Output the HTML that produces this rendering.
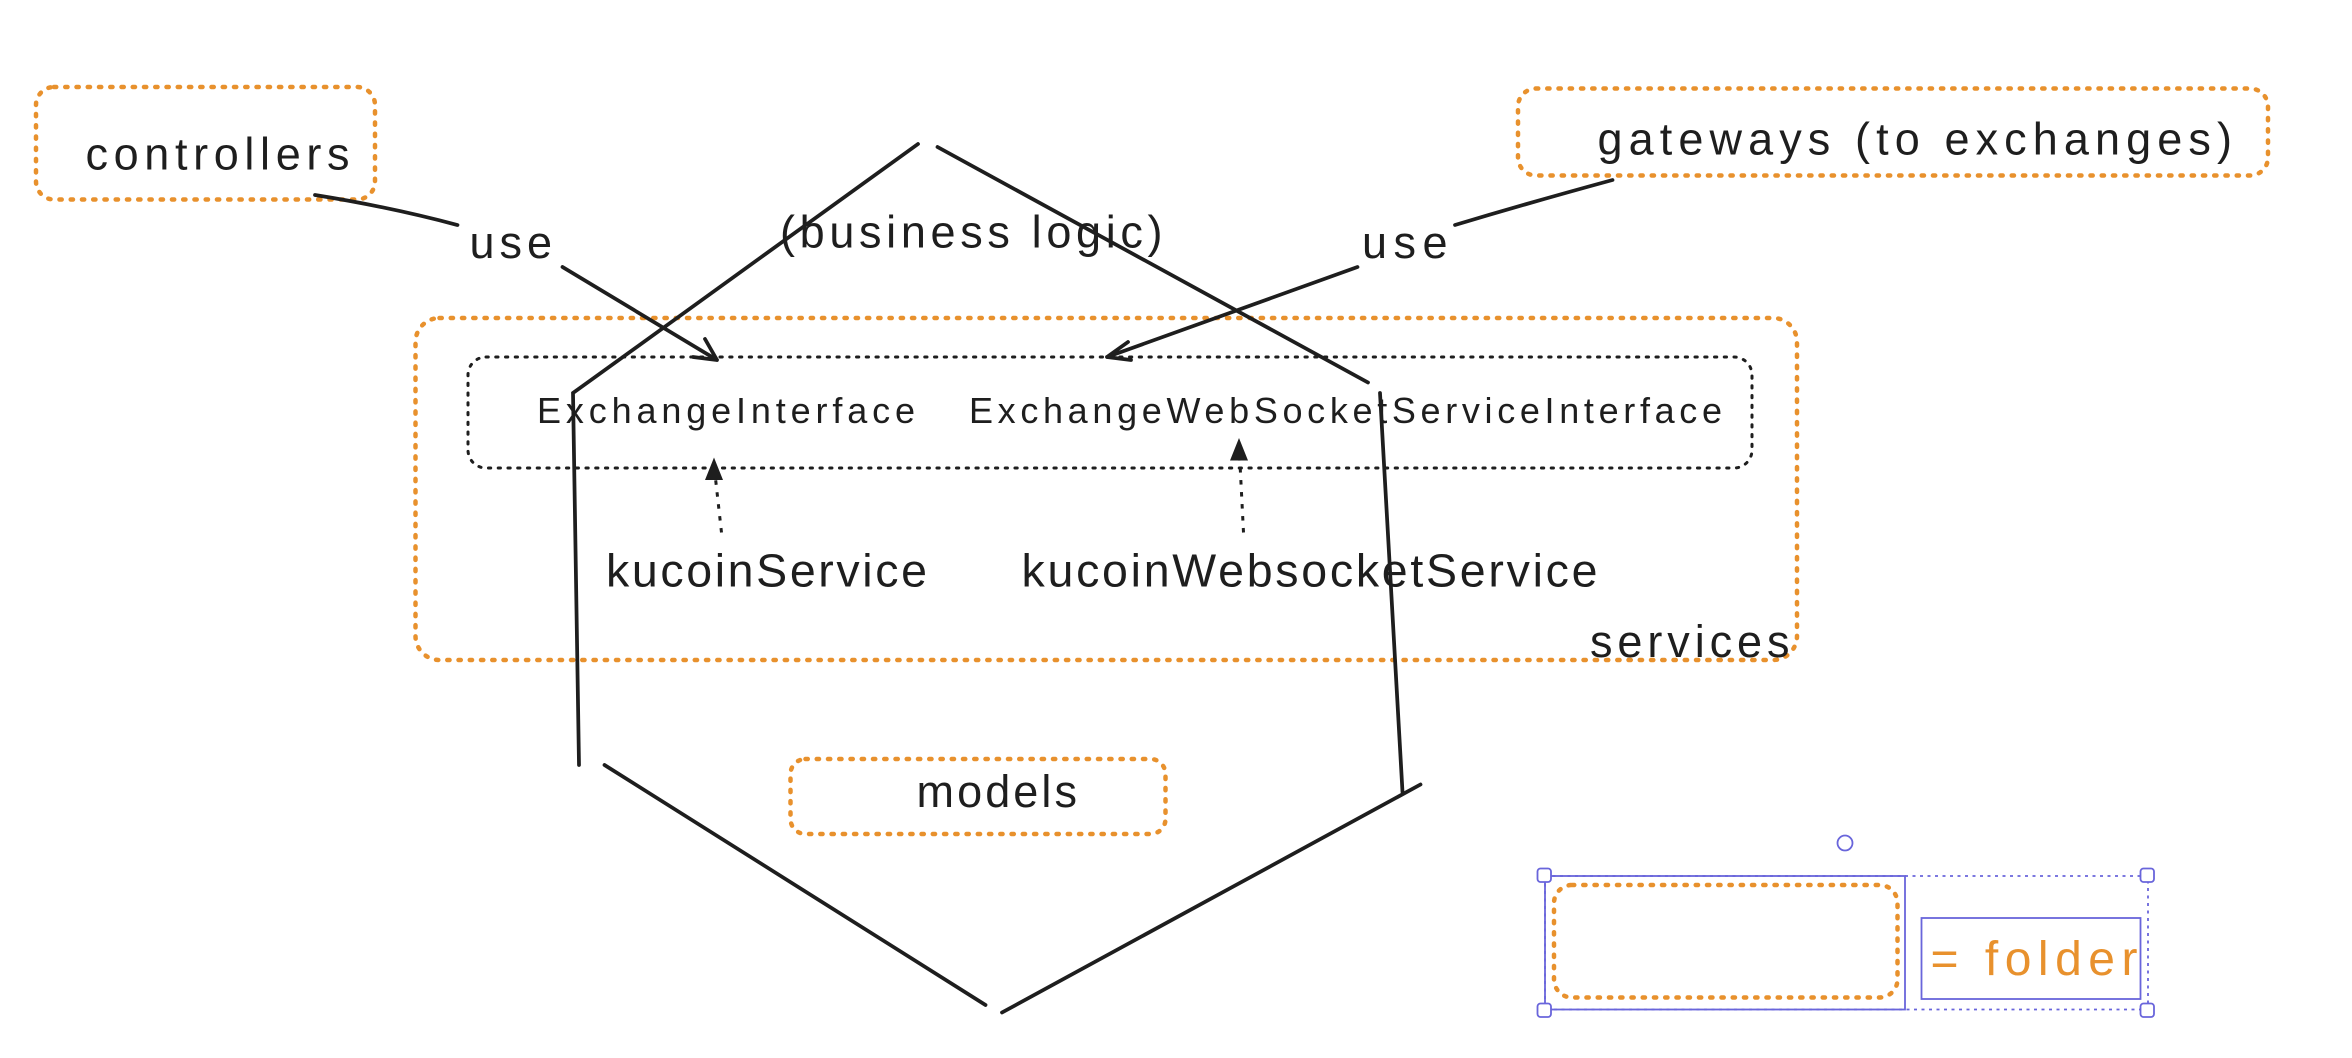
<!DOCTYPE html>
<html><head><meta charset="utf-8"><style>
html,body{margin:0;padding:0;background:#fff;width:2352px;height:1058px;overflow:hidden}
text{font-family:"Liberation Sans",sans-serif;fill:#1e1e1e}
</style></head><body>
<svg width="2352" height="1058" viewBox="0 0 1568 705.33" xmlns="http://www.w3.org/2000/svg">
<g fill="none" stroke="#e8912d" stroke-width="3" stroke-dasharray="1.5 6" stroke-linecap="round">
<rect x="24" y="58" width="226" height="75" rx="12"/>
<rect x="1012" y="59" width="500" height="58" rx="12"/>
<rect x="277" y="212" width="921" height="228" rx="16"/>
<rect x="527" y="506" width="250" height="50" rx="10"/>
<rect x="1036" y="590" width="229" height="75" rx="12"/>
</g>
<rect x="312" y="238" width="856" height="74" rx="12" fill="none" stroke="#1e1e1e" stroke-width="2" stroke-dasharray="1.5 5" stroke-linecap="round"/>
<g fill="none" stroke="#1e1e1e" stroke-width="2.5" stroke-linecap="round">
<path d="M210 130 Q260 138 305 150"/>
<path d="M375 178 L478 240 M478 240 L462 238 M478 240 L470 226"/>
<path d="M1075 120 Q1020 135 970 150"/>
<path d="M905 178 L738 238 M738 238 L752 228 M738 238 L754 240"/>
<path d="M612 96 L382 262 L386 510"/>
<path d="M625 98 L912 255"/>
<path d="M920 262 L935 528"/>
<path d="M403 510 L657 670"/>
<path d="M668 675 L947 523"/>
</g>
<g fill="none" stroke="#1e1e1e" stroke-width="2" stroke-dasharray="3 5">
<path d="M481 355 L476 310"/>
<path d="M829 355 L826 296"/>
</g>
<path d="M476 305 L470 320 L482 320Z M826 292 L820 307 L832 307Z" fill="#1e1e1e"/>
<text x="57" y="113" font-size="30" textLength="176">controllers</text>
<text x="1065" y="103" font-size="30" textLength="423">gateways (to exchanges)</text>
<text x="313" y="172" font-size="30" textLength="55">use</text>
<text x="908" y="172" font-size="30" textLength="57">use</text>
<text x="520" y="165" font-size="30" textLength="255">(business logic)</text>
<text x="358" y="282" font-size="24" textLength="252">ExchangeInterface</text>
<text x="646" y="282" font-size="24" textLength="502">ExchangeWebSocketServiceInterface</text>
<text x="404" y="391" font-size="31" textLength="214">kucoinService</text>
<text x="681" y="391" font-size="31" textLength="384">kucoinWebsocketService</text>
<text x="1060" y="438" font-size="30" textLength="133">services</text>
<text x="611" y="538" font-size="30" textLength="107">models</text>
<text x="1287" y="650" font-size="32" textLength="138" style="fill:#e8912d">= folder</text>
<g fill="none" stroke="#6965db" stroke-width="1.2">
<rect x="1030" y="584" width="402" height="89" stroke-dasharray="2 3"/>
<rect x="1030" y="584" width="240" height="89"/>
<rect x="1281" y="612" width="146" height="54"/>
<circle cx="1230" cy="562" r="5"/>
<rect x="1025" y="579" width="9" height="9" rx="2" fill="#fff"/>
<rect x="1427" y="579" width="9" height="9" rx="2" fill="#fff"/>
<rect x="1025" y="669" width="9" height="9" rx="2" fill="#fff"/>
<rect x="1427" y="669" width="9" height="9" rx="2" fill="#fff"/>
</g>
</svg>
</body></html>
